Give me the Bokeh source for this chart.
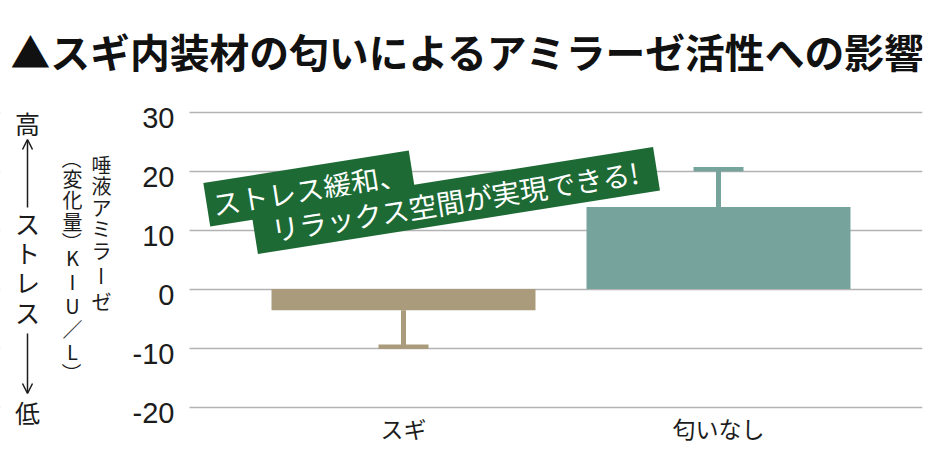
import math
from bokeh.plotting import figure
from bokeh.models import (Range1d, FixedTicker, LinearAxis, Label, ColumnDataSource,
                          Arrow, OpenHead, Grid, BoxAnnotation)
from bokeh.embed import file_html
from bokeh.resources import INLINE

# ---------------- data ----------------
title_text = "▲スギ内装材の匂いによるアミラーゼ活性への影響"
categories = ["スギ", "匂いなし"]
values = [-3.6, 13.9]
errors = [6.2, 6.4]
bar_colors = ["#a99b7c", "#76a39b"]
y_ticks = [-20, -10, 0, 10, 20, 30]
y_tick_labels = ["-20", "-10", "0", "10", "20", "30"]
y_title_col1 = "唾液アミラーゼ"
y_title_col2 = "（変化量）KIU／L）"
stress_high = "高"
stress_word = "ストレス"
stress_low = "低"
banner_line1 = "ストレス緩和、"
banner_line2 = "リラックス空間が実現できる!"

# ---------------- style / layout ----------------
JP = "Noto Sans CJK JP"
INK = "#1c1c1c"
GREEN = "#1d6a34"
GRID = "#b3b3b3"

W, H = 924, 454
FR, FB = 922, 426          # frame right / bottom (page px); frame starts at 0,0
GRID_X0 = 189              # where the grid lines begin
CAT0, PX_PER_CAT = 403.0, 315.0
ZERO_Y, PX_PER_UNIT = 288.5, 5.9

x_start = (0 - CAT0) / PX_PER_CAT
x_end = (FR - CAT0) / PX_PER_CAT
y_end = (ZERO_Y - 0) / PX_PER_UNIT
y_start = -(FB - ZERO_Y) / PX_PER_UNIT
grid_x0 = (GRID_X0 - CAT0) / PX_PER_CAT

p = figure(width=W, height=H, output_backend="svg", toolbar_location=None,
           x_range=Range1d(x_start, x_end), y_range=Range1d(y_start, y_end),
           y_axis_location=None,
           min_border_left=0, min_border_right=W - FR,
           min_border_top=0, min_border_bottom=H - FB)
p.outline_line_color = None
p.background_fill_color = "white"
p.border_fill_color = "white"
for g in p.grid:
    g.visible = False

p.add_layout(Grid(dimension=1, ticker=FixedTicker(ticks=y_ticks),
                  grid_line_color=GRID, grid_line_width=1.5))
# keep the area left of the chart clear of grid lines
p.add_layout(BoxAnnotation(left=x_start, right=grid_x0, bottom=y_start, top=y_end,
                           fill_color="white", fill_alpha=1.0, line_color=None,
                           level="glyph"))

# y axis pinned at the start of the grid; labels sit a little below their lines
shift = 6 / PX_PER_UNIT
p.extra_y_ranges = {"labels": Range1d(y_start + shift, y_end + shift)}
yax = LinearAxis(y_range_name="labels", fixed_location=grid_x0,
                 ticker=FixedTicker(ticks=y_ticks),
                 major_label_overrides={t: s for t, s in zip(y_ticks, y_tick_labels)})
yax.axis_line_color = None
yax.major_tick_line_color = None
yax.minor_tick_line_color = None
yax.major_tick_out = 0
yax.major_tick_in = 0
yax.major_label_standoff = 15
yax.major_label_text_font = "Liberation Sans"
yax.major_label_text_font_size = "29px"
yax.major_label_text_color = INK
p.add_layout(yax, "left")

xs = list(range(len(categories)))
xax = p.xaxis[0]
xax.ticker = FixedTicker(ticks=xs)
xax.major_label_overrides = {i: c for i, c in zip(xs, categories)}
xax.axis_line_color = None
xax.major_tick_line_color = None
xax.minor_tick_line_color = None
xax.major_tick_out = 0
xax.major_tick_in = 0
xax.major_label_standoff = -16
xax.major_label_text_font = JP
xax.major_label_text_font_size = "23px"
xax.major_label_text_color = INK

# bars + error bars
ends = [v + (e if v >= 0 else -e) for v, e in zip(values, errors)]
src = ColumnDataSource(dict(x=xs, top=values, end=ends, color=bar_colors))
p.vbar(x="x", top="top", bottom=0, width=0.838, fill_color="color",
       line_color=None, source=src)
p.segment(x0="x", y0="top", x1="x", y1="end", line_color="color",
          line_width=5, source=src)
p.scatter(x="x", y="end", marker="dash", size=50, line_color="color",
          line_width=4.5, source=src)

# ---------------- annotations ----------------
def sx(px):            # screen units are relative to the frame's bottom-left
    return px

def sy(py):
    return FB - py

def dx(px):            # page px -> data
    return (px - CAT0) / PX_PER_CAT

def dy(py):
    return (ZERO_Y - py) / PX_PER_UNIT

def label(t, px, py, size, color=INK, angle=0.0, align="center", bold=False, font=JP, **kw):
    p.add_layout(Label(x=sx(px), y=sy(py), x_units="screen", y_units="screen",
                       text=t, text_font=font, text_font_size=f"{size}px",
                       text_color=color, text_align=align, text_baseline="middle",
                       text_font_style="bold" if bold else "normal",
                       angle=angle, **kw))

# title
label(title_text, 10, 50, 39.8, color="#111111", align="left", bold=True)

# stress scale column
SX = 27
label(stress_high, SX, 122, 25)
for i, ch in enumerate(stress_word):
    label(ch, SX, 222 + i * 29.7, 25)
label(stress_low, SX, 411, 25)
for y0, y1 in ((207, 139), (333, 393)):
    p.add_layout(Arrow(end=OpenHead(size=10, line_width=1.5, line_color=INK),
                       x_start=dx(SX), y_start=dy(y0), x_end=dx(SX), y_end=dy(y1),
                       line_width=1.5, line_color=INK))

# vertical axis title, written top to bottom in two columns
def advance(ch):
    if ch == "ー":
        return 30
    if ch == "（":
        return 10
    if ch == "）":
        return 13
    if ch == "／":
        return 22
    if ch.isascii():
        return 24
    return 21.5

def vertical(txt, px, top, size):
    y = top
    for ch in txt:
        adv = advance(ch)
        cy = y + adv / 2
        ang = 0.0
        if ch == "ー":
            ang = -math.pi / 2
        elif ch == "（":
            ang = -math.pi / 2
            cy -= 0.17 * size
        elif ch == "）":
            ang = -math.pi / 2
            cy += 0.17 * size
        label(ch, px, cy, size, angle=ang)
        y += adv

vertical(y_title_col1, 101, 153, 20)
vertical(y_title_col2, 72, 157, 20)

# green banner
ang = math.radians(9.0)
label(banner_line1, 309, 188, 28, color="white", angle=ang,
      background_fill_color=GREEN,
      padding=dict(left=6, right=6, top=2, bottom=2))
label(banner_line2, 455, 200, 28, color="white", angle=ang,
      background_fill_color=GREEN,
      padding=dict(left=17, right=17, top=2, bottom=2))

open("out.html", "w").write(file_html(p, INLINE))
